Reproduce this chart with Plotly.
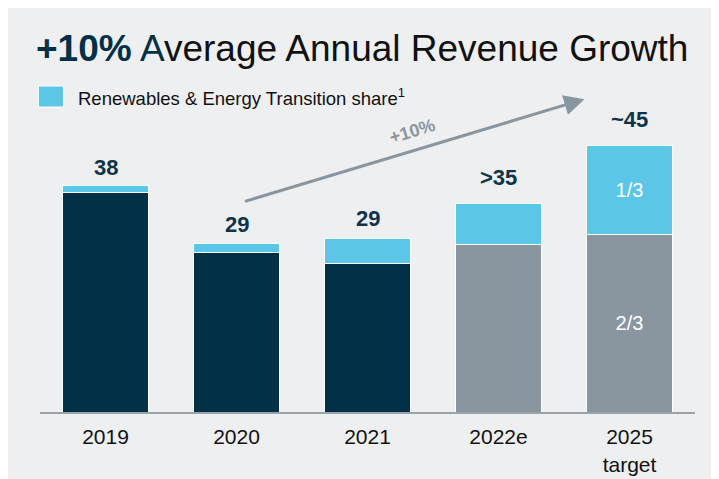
import plotly.graph_objects as go

# ---- data ----
categories = ["2019", "2020", "2021", "2022e", "2025<br>target"]
core_revenue = [36.7, 26.7, 24.9, 28.0, 29.8]
renewables_share = [1.3, 1.6, 4.2, 7.0, 14.9]
total_labels = ["38", "29", "29", ">35", "~45"]
segment_labels_core = ["", "", "", "", "2/3"]
segment_labels_renew = ["", "", "", "", "1/3"]
growth_label = "+10%"

# ---- style ----
NAVY = "#023047"
GREY = "#8A969F"
LIGHT = "#5BC6E8"
PANEL = "#EEEFF1"
TEXT_DARK = "#0F3448"
FONT = "Liberation Sans, Arial, sans-serif"

core_colors = [NAVY, NAVY, NAVY, GREY, GREY]

W, H = 719, 479
L, R, T, B = 31.5, 31.5, 92, 75
PW = W - L - R
PH = H - T - B


def px(xp):
    return (xp - L) / PW


def py(yp):
    return (H - B - yp) / PH


fig = go.Figure()
fig.add_trace(go.Bar(
    x=categories, y=core_revenue, marker=dict(color=core_colors, line=dict(color="white", width=1)),
    text=segment_labels_core, textposition="inside", insidetextanchor="middle",
    textfont=dict(color="white", size=20, family=FONT), hoverinfo="skip", showlegend=False,
))
fig.add_trace(go.Bar(
    x=categories, y=renewables_share, marker=dict(color=LIGHT, line=dict(color="white", width=1)),
    text=segment_labels_renew, textposition="inside", insidetextanchor="middle",
    textfont=dict(color="white", size=20, family=FONT), hoverinfo="skip", showlegend=False,
    name="Renewables & Energy Transition share",
))

totals = [c + r for c, r in zip(core_revenue, renewables_share)]
shifts = [18, 19, 20, 26, 26]
for i, (tot, lab, sh) in enumerate(zip(totals, total_labels, shifts)):
    fig.add_annotation(x=i, y=tot, text=f"<b>{lab}</b>", showarrow=False,
                       yanchor="middle", yshift=sh,
                       font=dict(size=22, color=TEXT_DARK, family=FONT))

# growth arrow
fig.add_annotation(x=3.656, y=52.4, ax=1.053, ay=35.2, xref="x", yref="y", axref="x", ayref="y",
                   text="", showarrow=True, arrowhead=2, arrowsize=1.35, arrowwidth=3, arrowcolor=GREY)
fig.add_annotation(x=px(405), y=py(104), xref="paper", yref="paper", text=f"<b>{growth_label}</b>",
                   showarrow=False, textangle=-17, font=dict(size=18, color=GREY, family=FONT))

# title
fig.add_annotation(x=px(25), y=py(41), xref="paper", yref="paper", xanchor="left", yanchor="middle",
                   text=(f"<span style='color:{NAVY}'><b>+10%</b> A</span>"
                         "verage Annual Revenue Growth"),
                   showarrow=False, font=dict(size=37, color="#111111", family=FONT))

# legend
fig.add_shape(type="rect", xref="paper", yref="paper", x0=px(30), x1=px(55), y0=py(99), y1=py(78),
              fillcolor=LIGHT, line=dict(color="white", width=1))
fig.add_annotation(x=px(68), y=py(89), xref="paper", yref="paper", xanchor="left", yanchor="middle",
                   text="Renewables & Energy Transition share<sup>1</sup>", showarrow=False,
                   font=dict(size=18.5, color="#111111", family=FONT))

fig.update_layout(
    width=W, height=H, margin=dict(l=L, r=R, t=T, b=B),
    barmode="stack", bargap=0.344,
    paper_bgcolor=PANEL, plot_bgcolor=PANEL,
    font=dict(family=FONT),
    showlegend=False,
    xaxis=dict(type="category", range=[-0.5, 4.5], showline=True, linecolor="#9AA3AA", linewidth=2,
               ticks="outside", ticklen=5,
               tickcolor="rgba(0,0,0,0)", tickfont=dict(size=21, color="#111111", family=FONT),
               showgrid=False, fixedrange=True),
    yaxis=dict(range=[0, PH / 5.97], visible=False, showgrid=False, fixedrange=True),
    uniformtext=dict(mode=False),
)

fig.write_html("out.html")
